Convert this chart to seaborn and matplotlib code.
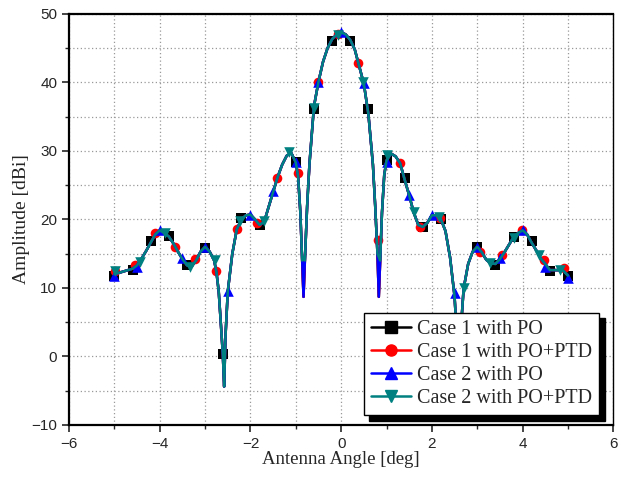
import numpy as np
import pandas as pd
import matplotlib
matplotlib.use("Agg")
import matplotlib.pyplot as plt
from matplotlib.lines import Line2D
from matplotlib.ticker import MultipleLocator
import seaborn as sns

# dense pattern (line)
curve_x = [-5.0, -4.9, -4.8, -4.7, -4.6, -4.5, -4.4, -4.3, -4.2, -4.1, -4.0, -3.9, -3.8, -3.7, -3.6,
           -3.5, -3.4, -3.3, -3.2, -3.1, -3.0, -2.9, -2.8, -2.75, -2.7, -2.65, -2.61, -2.58, -2.55,
           -2.5, -2.4, -2.3, -2.2, -2.1, -2.0, -1.9, -1.8, -1.7, -1.6, -1.5, -1.4, -1.3, -1.2, -1.1,
           -1.0, -0.95, -0.9, -0.86, -0.83, -0.8, -0.75, -0.7, -0.6, -0.5, -0.4, -0.3, -0.2, -0.1,
           0.0, 0.1, 0.2, 0.3, 0.4, 0.5, 0.6, 0.7, 0.75, 0.8, 0.83, 0.86, 0.9, 0.95, 1.0, 1.1, 1.2,
           1.3, 1.4, 1.5, 1.6, 1.7, 1.8, 1.9, 2.0, 2.1, 2.2, 2.3, 2.4, 2.5, 2.55, 2.58, 2.62, 2.65,
           2.7, 2.8, 2.9, 3.0, 3.1, 3.2, 3.3, 3.4, 3.5, 3.6, 3.7, 3.8, 3.9, 4.0, 4.1, 4.2, 4.3, 4.4,
           4.5, 4.6, 4.7, 4.8, 4.9, 5.0]
curve_case = [12.0, 12.2, 12.4, 12.6, 12.8, 13.3, 14.3, 15.4, 16.6, 17.8, 18.4, 18.0, 17.5, 16.5, 15.3,
              14.2, 13.3, 13.1, 14.0, 15.3, 16.0, 15.3, 14.0, 12.3, 9.5, 4.5, 0.4, -4.4, 3.0,
              9.5, 15.0, 18.6, 20.0, 20.6, 20.7, 20.0, 19.2, 19.6, 21.8, 24.0, 26.2, 28.0, 29.3, 29.7,
              28.3, 26.3, 21.0, 14.0, 8.7, 14.0, 22.0, 28.0, 36.5, 40.1, 43.0, 45.0, 46.3, 47.0,
              47.3, 47.0, 46.2, 44.8, 42.3, 39.8, 35.4, 28.0, 22.0, 15.0, 8.7, 14.0, 21.0, 26.5, 28.6, 29.6, 29.2,
              28.2, 25.8, 23.5, 21.0, 19.2, 18.9, 19.5, 20.6, 20.6, 20.0, 18.3, 14.5, 8.8, 3.0, -4.4, 3.0, 5.0,
              9.9, 13.5, 15.3, 16.0, 15.2, 14.1, 13.6, 13.5, 14.2, 15.2, 16.3, 17.4, 18.0, 18.4, 17.8, 16.6, 15.5, 14.3,
              13.5, 12.6, 12.6, 12.6, 12.5, 11.8]
# case 2 PO+PTD is shallower at the first nulls
curve_case2_ptd = [14.5 if abs(abs(x) - 0.83) < 1e-9 else y for x, y in zip(curve_x, curve_case)]

# symbol positions of each series
c1_po_x = [-5.0, -4.6, -4.2, -3.8, -3.4, -3.0, -2.6, -2.2, -1.8, -1.0, -0.6, -0.2,
           0.2, 0.6, 1.0, 1.4, 1.8, 2.2, 3.0, 3.4, 3.8, 4.2, 4.6, 5.0]
c1_po_y = [11.8, 12.6, 16.8, 17.6, 13.3, 15.8, 0.4, 20.2, 19.2, 28.4, 36.1, 46.0,
           46.0, 36.1, 28.6, 26.0, 18.9, 20.1, 15.9, 13.4, 17.5, 16.8, 12.4, 11.8]
c1_ptd_x = [-4.99, -4.55, -4.1, -3.66, -3.22, -2.76, -2.3, -1.86, -1.41, -0.96, -0.5, -0.06,
            0.38, 0.82, 1.3, 1.74, 2.19, 3.07, 3.55, 3.99, 4.47, 4.91]
c1_ptd_y = [12.4, 13.4, 18.0, 15.9, 14.2, 12.5, 18.6, 19.5, 26.0, 26.7, 40.1, 47.1,
            42.9, 17.0, 28.2, 18.9, 20.2, 15.3, 14.8, 18.5, 14.1, 12.9]
c2_po_x = [-5.0, -4.5, -4.0, -3.5, -3.0, -2.5, -2.0, -1.5, -1.0, -0.5, 0.0,
           0.5, 1.0, 1.5, 2.0, 2.5, 3.0, 3.5, 4.0, 4.5, 5.0]
c2_po_y = [11.7, 13.1, 18.5, 14.3, 16.0, 9.5, 20.7, 24.1, 28.4, 40.1, 47.4,
           39.9, 28.4, 23.6, 20.7, 9.2, 16.0, 14.3, 18.5, 13.1, 11.4]
c2_ptd_x = [-4.99, -4.44, -3.89, -3.33, -2.78, -2.23, -1.7, -1.15, -0.61, -0.06,
            0.49, 1.01, 1.6, 2.15, 2.7, 3.29, 3.8, 4.36, 4.83]
c2_ptd_y = [12.4, 13.8, 18.0, 13.1, 14.1, 19.7, 19.7, 29.9, 36.2, 46.9,
            40.1, 29.4, 21.1, 20.4, 9.95, 13.6, 17.3, 14.8, 12.6]

labels = ["Case 1 with PO", "Case 1 with PO+PTD", "Case 2 with PO", "Case 2 with PO+PTD"]
colors = ["black", "red", "blue", "#008080"]
markers = ["s", "o", "^", "v"]
sizes = [42, 48, 58, 58]

sns.set_style("white")
fig = plt.figure(figsize=(6.22, 4.78), dpi=100)
ax = fig.add_axes([0.111, 0.111, 0.875, 0.860])

series = [
    (curve_case, c1_po_x, c1_po_y),
    (curve_case, c1_ptd_x, c1_ptd_y),
    (curve_case, c2_po_x, c2_po_y),
    (curve_case2_ptd, c2_ptd_x, c2_ptd_y),
]
z = 3
for (cy, mx, my), col, mk, sz in zip(series, colors, markers, sizes):
    sns.lineplot(x=curve_x, y=cy, color=col, lw=1.8, sort=False, estimator=None, ax=ax, zorder=z)
    sns.scatterplot(x=mx, y=my, color=col, marker=mk, s=sz, linewidth=0, ax=ax, zorder=z + 1)
    z += 2

ax.set_xlim(-6, 6)
ax.set_ylim(-10, 50)
ax.xaxis.set_major_locator(MultipleLocator(2))
ax.xaxis.set_minor_locator(MultipleLocator(1))
ax.yaxis.set_major_locator(MultipleLocator(10))
ax.yaxis.set_minor_locator(MultipleLocator(5))
ax.grid(True, which="both", color="#999999", linestyle=(0, (1, 2)), linewidth=0.9)
ax.set_axisbelow(True)
ax.tick_params(which="major", direction="out", length=5, width=1.2, labelsize=11,
               left=True, bottom=True)
ax.tick_params(which="minor", direction="out", length=3, width=1, left=True, bottom=True)
for lab in ax.get_xticklabels() + ax.get_yticklabels():
    lab.set_fontfamily("Liberation Sans")
for side in ["left", "bottom", "top"]:
    ax.spines[side].set_linewidth(1.6)
    ax.spines[side].set_color("black")
ax.spines["right"].set_linewidth(1.0)
ax.spines["right"].set_color("black")

ax.set_xlabel("Antenna Angle [deg]", fontfamily="Liberation Serif", fontsize=13.5, labelpad=0)
ax.set_ylabel("Amplitude [dBi]", fontfamily="Liberation Serif", fontsize=14, labelpad=1)

handles = [Line2D([0], [0], color=c, marker=m, lw=1.8, markersize=8) for c, m in zip(colors, markers)]
leg = ax.legend(handles, labels, loc="lower right", bbox_to_anchor=(0.974, 0.024),
                borderaxespad=0, fancybox=False, framealpha=1, edgecolor="black",
                prop={"family": "Liberation Serif", "size": 14.5}, handlelength=2.0,
                labelspacing=0.2, borderpad=0.35, handletextpad=0.3,
                shadow={"color": "black", "alpha": 1, "ox": 4, "oy": -4})
leg.get_frame().set_linewidth(1.0)
leg.set_zorder(20)

fig.savefig("out.png", dpi=100)
